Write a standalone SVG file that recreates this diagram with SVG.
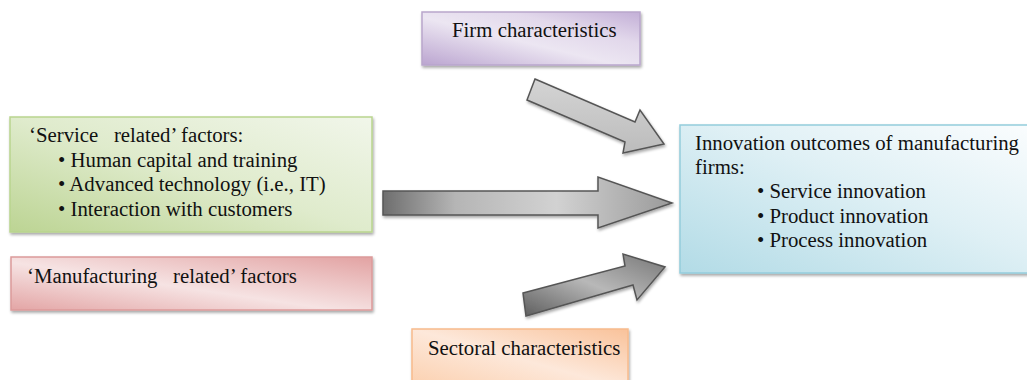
<svg xmlns="http://www.w3.org/2000/svg" width="1027" height="380" viewBox="0 0 1027 380">
<style>
text{font-family:'Liberation Serif','Times New Roman',serif;font-size:20.8px;fill:#111;white-space:pre}
.box{stroke-width:1.5}
.arrow{stroke:#555;stroke-width:1.5;stroke-linejoin:miter}
</style>
<defs>
<filter id="sh" x="-10%" y="-10%" width="120%" height="130%">
<feGaussianBlur in="SourceAlpha" stdDeviation="1.5"/>
<feOffset dx="1" dy="2" result="b"/>
<feComponentTransfer><feFuncA type="linear" slope="0.35"/></feComponentTransfer>
<feMerge><feMergeNode/><feMergeNode in="SourceGraphic"/></feMerge>
</filter>
<linearGradient id="gP" x1="0" y1="1" x2="1" y2="0">
<stop offset="0" stop-color="#bba5d0"/><stop offset="0.45" stop-color="#ece6f2"/><stop offset="0.7" stop-color="#e2d8eb"/><stop offset="1" stop-color="#c3afd7"/>
</linearGradient>
<linearGradient id="gG" x1="0" y1="1" x2="1" y2="0">
<stop offset="0" stop-color="#bcd493"/><stop offset="0.5" stop-color="#dfebcc"/><stop offset="1" stop-color="#f1f6ea"/>
</linearGradient>
<linearGradient id="gR" x1="0" y1="1" x2="1" y2="0">
<stop offset="0" stop-color="#e3a5a5"/><stop offset="0.45" stop-color="#f6e3e3"/><stop offset="1" stop-color="#e2a2a2"/>
</linearGradient>
<linearGradient id="gO" x1="0" y1="1" x2="1" y2="0">
<stop offset="0" stop-color="#fbcfad"/><stop offset="0.5" stop-color="#fde8da"/><stop offset="1" stop-color="#f9c29a"/>
</linearGradient>
<linearGradient id="gB" x1="0" y1="1" x2="1" y2="0">
<stop offset="0" stop-color="#b2dbe6"/><stop offset="0.55" stop-color="#dff0f5"/><stop offset="1" stop-color="#fbfdfe"/>
</linearGradient>
<linearGradient id="gA1" x1="0" y1="0" x2="0" y2="1">
<stop offset="0" stop-color="#d4d4d4"/><stop offset="1" stop-color="#bcbcbc"/>
</linearGradient>
<linearGradient id="gA2" x1="0" y1="0" x2="1" y2="0">
<stop offset="0" stop-color="#6e6e6e"/><stop offset="0.25" stop-color="#b5b5b5"/><stop offset="0.6" stop-color="#d2d2d2"/><stop offset="1" stop-color="#9a9a9a"/>
</linearGradient>
<linearGradient id="gA3" x1="0" y1="1" x2="1" y2="0">
<stop offset="0" stop-color="#5e5e5e"/><stop offset="0.5" stop-color="#b8b8b8"/><stop offset="1" stop-color="#777"/>
</linearGradient>
</defs>

<g id="connectors">
<polygon class="arrow" fill="url(#gA1)" filter="url(#sh)" points="535,79 635,122 640,110 664,144 623,153 625,142 527,100"/>
<polygon class="arrow" fill="url(#gA2)" filter="url(#sh)" points="383,191 598,191 598,177 672,203 598,228 598,215 383,215"/>
<polygon class="arrow" fill="url(#gA3)" filter="url(#sh)" points="523,293 625,266 623,254 665,267 637,300 633,285 526,316"/>
</g>

<g id="firm">
<rect class="box" x="422" y="12" width="218" height="53" fill="url(#gP)" stroke="#b9a6cc" filter="url(#sh)"/>
<text x="452" y="37">Firm characteristics</text>
</g>

<g id="service">
<rect class="box" x="10" y="117" width="362" height="115" fill="url(#gG)" stroke="#b9d58e" filter="url(#sh)"/>
<text x="29" y="142">‘Service   related’ factors:</text>
<text x="58" y="167">• Human capital and training</text>
<text x="58" y="191">• Advanced technology (i.e., IT)</text>
<text x="58" y="216">• Interaction with customers</text>
</g>

<g id="manufacturing">
<rect class="box" x="11" y="257" width="361" height="53" fill="url(#gR)" stroke="#dc9a9a" filter="url(#sh)"/>
<text x="27" y="283">‘Manufacturing   related’ factors</text>
</g>

<g id="sectoral">
<rect class="box" x="412" y="329" width="216" height="60" fill="url(#gO)" stroke="#f8bb8c" filter="url(#sh)"/>
<text x="428" y="355">Sectoral characteristics</text>
</g>

<g id="outcomes">
<rect class="box" x="680" y="125" width="360" height="148" fill="url(#gB)" stroke="#94cddc" filter="url(#sh)"/>
<text x="695" y="150">Innovation outcomes of manufacturing</text>
<text x="695" y="174">firms:</text>
<text x="757" y="198">• Service innovation</text>
<text x="757" y="223">• Product innovation</text>
<text x="757" y="247">• Process innovation</text>
</g>
</svg>
